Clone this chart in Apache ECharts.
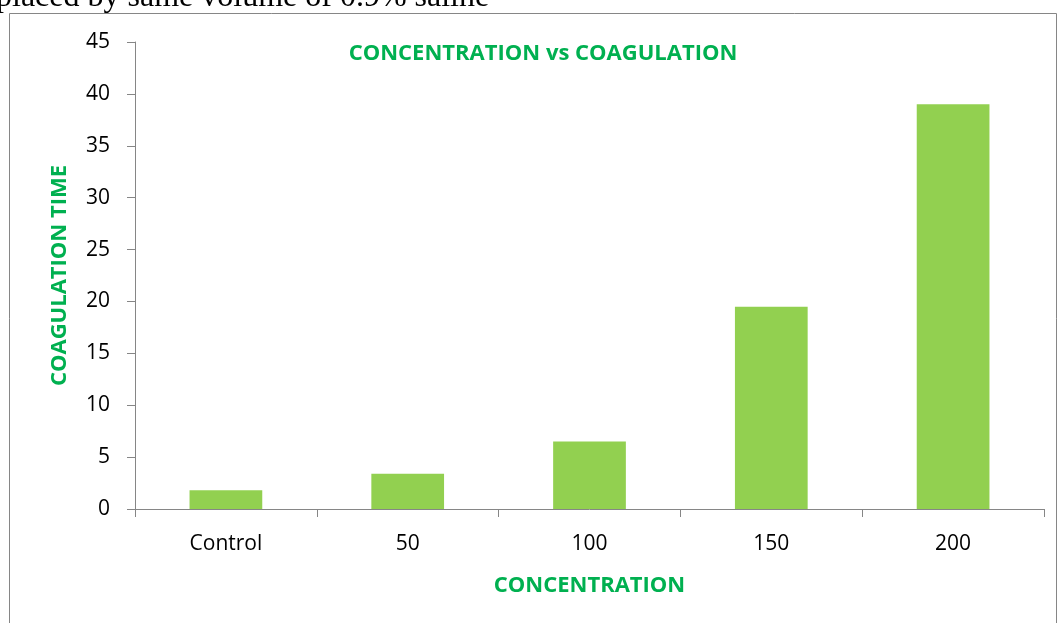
<!DOCTYPE html>
<html>
<head>
<meta charset="utf-8">
<style>
  html, body { margin: 0; padding: 0; background: #fff; }
  #chart { width: 1059px; height: 623px; }
</style>
<script src="https://cdn.jsdelivr.net/npm/echarts@6/dist/echarts.min.js"></script>
</head>
<body>
<div id="chart"></div>
<script>
// Coagulation time by extract concentration
const categories = ['Control', '50', '100', '150', '200'];
const coagulationTime = [1.8, 3.4, 6.5, 19.5, 39];
const yTicks = { min: 0, max: 45, interval: 5 };

const chartTitle = 'CONCENTRATION vs COAGULATION';
const xAxisName = 'CONCENTRATION';
const yAxisName = 'COAGULATION TIME';
const captionText = 'placed by same volume of 0.9% saline';

const green = '#00B050';
const barColor = '#92D050';
const axisGray = '#868686';
const labelFont = "'Open Sans', 'Noto Sans', sans-serif";

const chart = echarts.init(document.getElementById('chart'));
chart.setOption({
  animation: false,
  backgroundColor: '#ffffff',
  graphic: [
    {
      type: 'text', left: -4, top: -18,
      style: { text: captionText, font: '32px "Liberation Serif", "Times New Roman", serif', fill: '#000' }
    },
    {
      type: 'rect', shape: { x: 9.5, y: 13.5, width: 1047, height: 640 },
      style: { fill: 'none', stroke: axisGray, lineWidth: 1 }
    }
  ],
  title: {
    text: chartTitle,
    left: 538, top: 38, textAlign: 'center',
    textStyle: { color: green, fontSize: 22, fontWeight: 'bold', fontFamily: labelFont }
  },
  grid: { left: 135, right: 15, top: 42, bottom: 114, containLabel: false },
  xAxis: {
    type: 'category',
    data: categories,
    name: xAxisName,
    nameLocation: 'middle',
    nameGap: 66,
    nameTextStyle: { color: green, fontSize: 22, fontWeight: 'bold', fontFamily: labelFont },
    axisLine: { lineStyle: { color: axisGray, width: 1 } },
    axisTick: { show: true, length: 8, alignWithLabel: false, lineStyle: { color: axisGray } },
    axisLabel: { color: '#000', fontSize: 21, fontFamily: labelFont, margin: 25 }
  },
  yAxis: {
    type: 'value',
    min: yTicks.min, max: yTicks.max, interval: yTicks.interval,
    name: yAxisName,
    nameLocation: 'middle',
    nameGap: 64,
    nameRotate: 90,
    nameTextStyle: { color: green, fontSize: 22, fontWeight: 'bold', fontFamily: labelFont },
    axisLine: { show: true, lineStyle: { color: axisGray, width: 1 } },
    axisTick: { show: true, length: 8, lineStyle: { color: axisGray } },
    splitLine: { show: false },
    axisLabel: { color: '#000', fontSize: 21, fontFamily: labelFont, margin: 25 }
  },
  series: [{
    type: 'bar',
    data: coagulationTime,
    barWidth: '40%',
    itemStyle: { color: barColor }
  }]
});
</script>
</body>
</html>
